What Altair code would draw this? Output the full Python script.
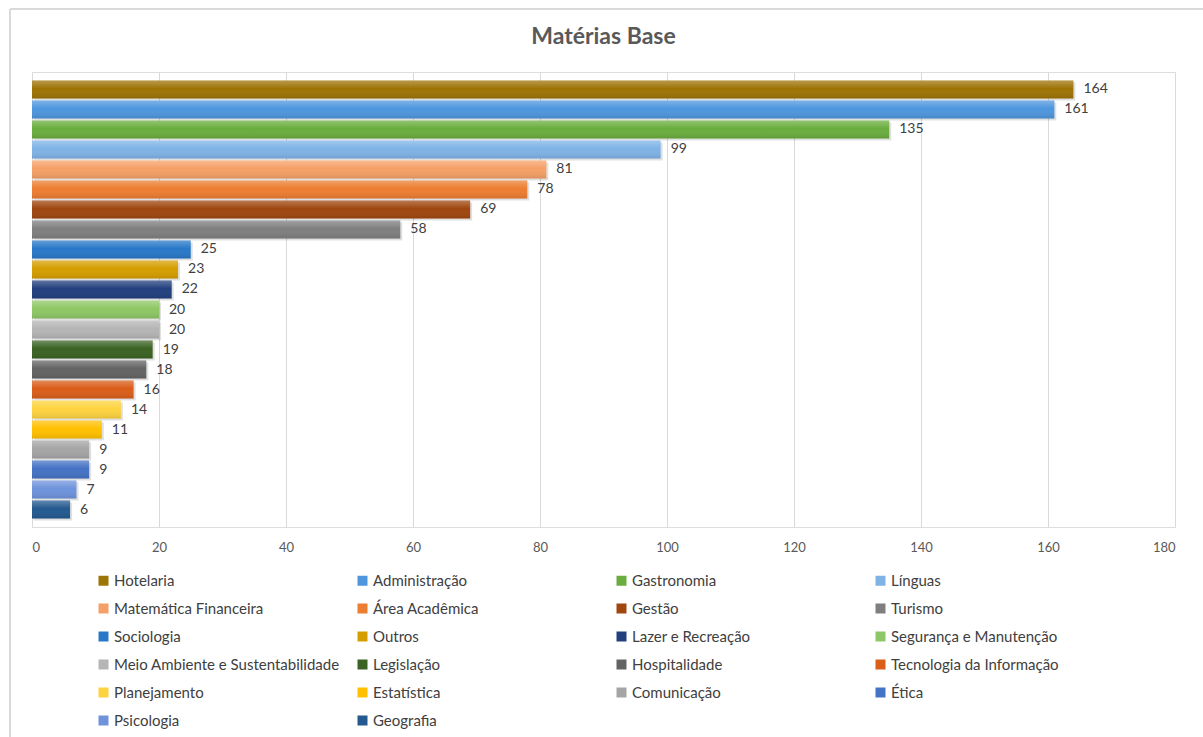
import altair as alt
import pandas as pd

categories = ["Hotelaria", "Administração", "Gastronomia", "Línguas",
              "Matemática Financeira", "Área Acadêmica", "Gestão", "Turismo",
              "Sociologia", "Outros", "Lazer e Recreação", "Segurança e Manutenção",
              "Meio Ambiente e Sustentabilidade", "Legislação", "Hospitalidade",
              "Tecnologia da Informação", "Planejamento", "Estatística",
              "Comunicação", "Ética", "Psicologia", "Geografia"]
values = [164, 161, 135, 99, 81, 78, 69, 58, 25, 23, 22, 20, 20, 19, 18, 16,
          14, 11, 9, 9, 7, 6]
colors = ["#9E7406", "#4E96DD", "#6AAD3E", "#7FB3E6",
          "#F5A066", "#ED7D31", "#A0460F", "#7F7F7F",
          "#2878C8", "#D49E00", "#22407E", "#8EC765",
          "#B5B5B5", "#3B6323", "#636363",
          "#DA5D18", "#FDD33F", "#FFC000",
          "#A5A5A5", "#4472C4", "#6E93DB", "#23598F"]
x_ticks = [0, 20, 40, 60, 80, 100, 120, 140, 160, 180]

df = pd.DataFrame({"cat": categories, "value": values})

FONT = "Lato"
W, H = 1143, 455

base = alt.Chart(df).encode(
    y=alt.Y("cat:N", sort=categories, axis=None,
            scale=alt.Scale(paddingInner=0.1, paddingOuter=0.42)),
    x=alt.X("value:Q",
            scale=alt.Scale(domain=[0, 180], nice=False),
            axis=alt.Axis(values=x_ticks, grid=True, gridColor="#D9D9D9",
                          domain=False, ticks=False, labelPadding=14,
                          labelFont=FONT, labelFontSize=13,
                          labelColor="#595959", title=None)),
)

shadow = base.mark_bar(color="#000000", opacity=0.12, xOffset=2, yOffset=2)

bars = base.mark_bar().encode(
    color=alt.Color("cat:N",
                    scale=alt.Scale(domain=categories, range=colors),
                    legend=alt.Legend(
                        title=None, orient="none", legendX=64, legendY=501,
                        direction="horizontal",
                        columns=4, gridAlign="all", symbolType="square",
                        symbolSize=100, symbolStrokeWidth=0, labelFont=FONT,
                        labelFontSize=15, labelColor="#404040", labelOffset=3,
                        rowPadding=12, columnPadding=15, labelLimit=300,
                        padding=0)),
)

sheen = base.mark_bar(
    fill=alt.Gradient(
        gradient="linear",
        stops=[alt.GradientStop(color="rgba(255,255,255,0.28)", offset=0),
               alt.GradientStop(color="rgba(255,255,255,0.0)", offset=0.45),
               alt.GradientStop(color="rgba(0,0,0,0.10)", offset=1)],
        x1=0, x2=0, y1=0, y2=1),
)

labels = base.mark_text(align="left", baseline="middle", dx=10,
                        font=FONT, fontSize=14, color="#404040").encode(
    text="value:Q")

border = alt.Chart(df).mark_rect(fill=None, stroke="#D9D9D9", strokeWidth=1,
                                 clip=False).encode(
    x=alt.value(-22), x2=alt.value(W + 60),
    y=alt.value(-63), y2=alt.value(H + 230))

chart = alt.layer(border, shadow, bars, sheen, labels).properties(
    width=W, height=H,
    title=alt.TitleParams("Matérias Base", font=FONT, fontSize=23,
                          fontWeight="bold", color="#595959",
                          anchor="middle", offset=0, dy=40),
    autosize=alt.AutoSizeParams(type="none"),
    padding={"left": 32, "top": 72, "right": 28, "bottom": 210},
).configure_view(stroke=None).configure(background="white")

chart.save("out.html", embed_options={"renderer": "svg", "actions": False})
